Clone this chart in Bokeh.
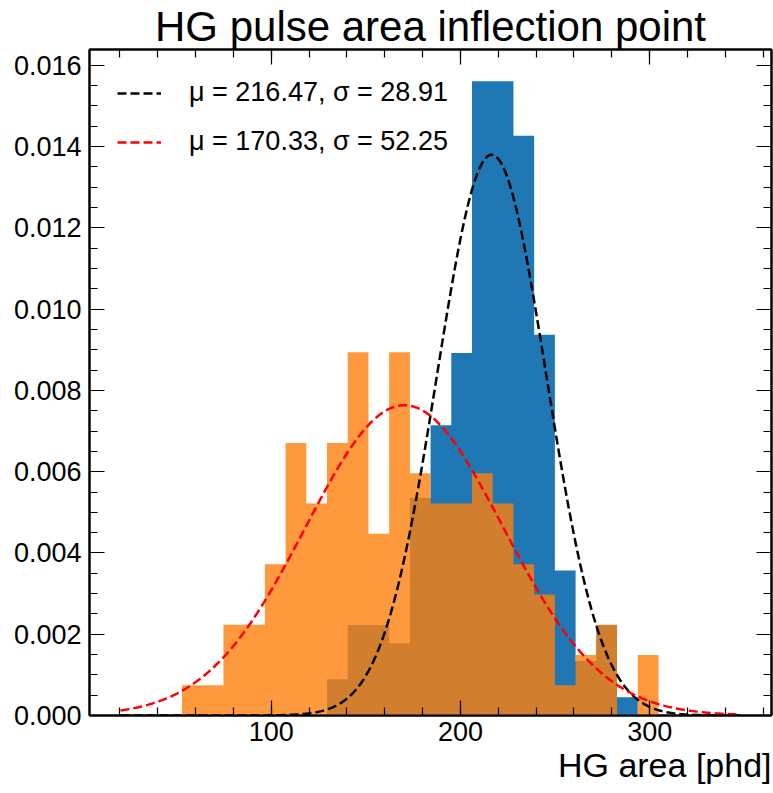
import numpy as np
from bokeh.plotting import figure
from bokeh.models import (Range1d, LinearAxis, SingleIntervalTicker, PrintfTickFormatter,
                          CustomJSTickFormatter, Legend, LegendItem, Title)
from bokeh.embed import file_html
from bokeh.resources import INLINE

# ---- data ----
bin_edges = [52.8, 63.75, 74.7, 85.65, 96.6, 107.55, 118.5, 129.45, 140.4, 151.35, 162.3,
             173.25, 184.2, 195.15, 206.1, 217.05, 228.0, 238.95, 249.9, 260.85, 271.8,
             282.75, 293.7, 304.65]

# blue histogram (density), bins from 129.45 to 293.7
blue_edges = bin_edges[7:23]
blue_density = [0.00089, 0.00223, 0.00223, 0.00178, 0.00535, 0.00714, 0.00892, 0.01561,
                0.01561, 0.01427, 0.00937, 0.00357, 0.00134, 0.00223, 0.00045]

# orange histogram (density), bins from 52.8 to 304.65
orange_edges = bin_edges
orange_density = [0.000745, 0.000745, 0.002235, 0.002235, 0.003725, 0.006705, 0.005215,
                  0.006705, 0.00894, 0.00447, 0.00894, 0.00596, 0.005215, 0.005215, 0.00596,
                  0.005215, 0.003725, 0.00298, 0.000745, 0.00149, 0.002235, 0.0, 0.00149]

fit_black = {"mu": 216.47, "sigma": 28.91}
fit_red = {"mu": 170.33, "sigma": 52.25}
curve_span = [20.3, 348.0]

title_text = "HG pulse area inflection point"
xlabel_text = "HG area [phd]"
FONT = "Liberation Sans"

p = figure(width=773, height=793, x_range=Range1d(3.9, 364.4), y_range=Range1d(0, 0.01639),
           output_backend="svg", toolbar_location=None,
           min_border_left=89, min_border_right=2, min_border_top=0, min_border_bottom=78,
           background_fill_color="white", border_fill_color="white")

p.title.text = title_text
p.title.align = "center"
p.title.text_font = FONT
p.title.text_font_size = "42px"
p.title.text_font_style = "normal"
p.title.text_color = "black"
p.title.standoff = 0

# histograms
p.varea_step(x=blue_edges, y1=0, y2=blue_density + [0], step_mode="after",
             fill_color="#1f77b4", fill_alpha=1.0)
p.varea_step(x=orange_edges, y1=0, y2=orange_density + [0], step_mode="after",
             fill_color="#ff7f0e", fill_alpha=0.8)

xs = np.linspace(curve_span[0], curve_span[1], 600)
def gauss(x, mu, sigma):
    return np.exp(-0.5 * ((x - mu) / sigma) ** 2) / (sigma * np.sqrt(2 * np.pi))

r_black = p.line(xs, gauss(xs, **fit_black), line_color="black", line_width=2.5, line_dash="9 4")
r_red = p.line(xs, gauss(xs, **fit_red), line_color="red", line_width=2.5, line_dash="9 4")

legend = Legend(items=[
    LegendItem(label="\u03bc = %.2f, \u03c3 = %.2f" % (fit_black["mu"], fit_black["sigma"]), renderers=[r_black]),
    LegendItem(label="\u03bc = %.2f, \u03c3 = %.2f" % (fit_red["mu"], fit_red["sigma"]), renderers=[r_red]),
], location="top_left")
legend.border_line_color = None
legend.background_fill_alpha = 0
legend.label_text_font = FONT
legend.label_text_font_size = "27px"
legend.label_text_color = "black"
legend.glyph_width = 44
legend.label_standoff = 28
legend.margin = 28
legend.padding = 0
legend.spacing = 18
p.add_layout(legend)

# axes styling
p.xgrid.visible = False
p.ygrid.visible = False
p.outline_line_color = "black"
p.outline_line_width = 2

def style(ax, labels=True):
    ax.axis_line_color = "black"
    ax.axis_line_width = 2
    ax.major_tick_in = 15
    ax.major_tick_out = 0
    ax.minor_tick_in = 8
    ax.minor_tick_out = 0
    ax.major_tick_line_color = "black"
    ax.minor_tick_line_color = "black"
    ax.major_tick_line_width = 1.2
    ax.minor_tick_line_width = 1.2
    ax.major_label_text_font = FONT
    ax.major_label_text_color = "black"
    ax.major_label_text_font_size = "27px"
    if not labels:
        ax.formatter = CustomJSTickFormatter(code="return ''")
        ax.major_label_standoff = 0

bottom_ax = p.xaxis[0]
left_ax = p.yaxis[0]
bottom_ax.ticker = SingleIntervalTicker(interval=100, num_minor_ticks=5)
left_ax.ticker = SingleIntervalTicker(interval=0.002, num_minor_ticks=4)
left_ax.formatter = PrintfTickFormatter(format="%.3f")
bottom_ax.formatter = PrintfTickFormatter(format="%d")
style(bottom_ax)
style(left_ax)
bottom_ax.major_label_standoff = 6
left_ax.major_label_standoff = 8

top_ax = LinearAxis(ticker=SingleIntervalTicker(interval=100, num_minor_ticks=5))
style(top_ax, labels=False)
p.add_layout(top_ax, "above")
right_ax = LinearAxis(ticker=SingleIntervalTicker(interval=0.002, num_minor_ticks=4))
style(right_ax, labels=False)
p.add_layout(right_ax, "right")

used_axis_label = False
if "axis_label_align" in bottom_ax.properties():
    try:
        bottom_ax.axis_label_align = "right"
        bottom_ax.axis_label_text_align = "right"
        used_axis_label = True
    except Exception:
        used_axis_label = False
if used_axis_label:
    bottom_ax.axis_label = xlabel_text
    bottom_ax.axis_label_text_font = FONT
    bottom_ax.axis_label_text_font_size = "34px"
    bottom_ax.axis_label_text_font_style = "normal"
    bottom_ax.axis_label_text_color = "black"
    bottom_ax.axis_label_standoff = 12
else:
    xlab = Title(text=xlabel_text, align="right", text_font=FONT, text_font_size="34px",
                 text_font_style="normal", text_color="black", standoff=0)
    p.add_layout(xlab, "below")

open("out.html", "w").write(file_html(p, INLINE))
